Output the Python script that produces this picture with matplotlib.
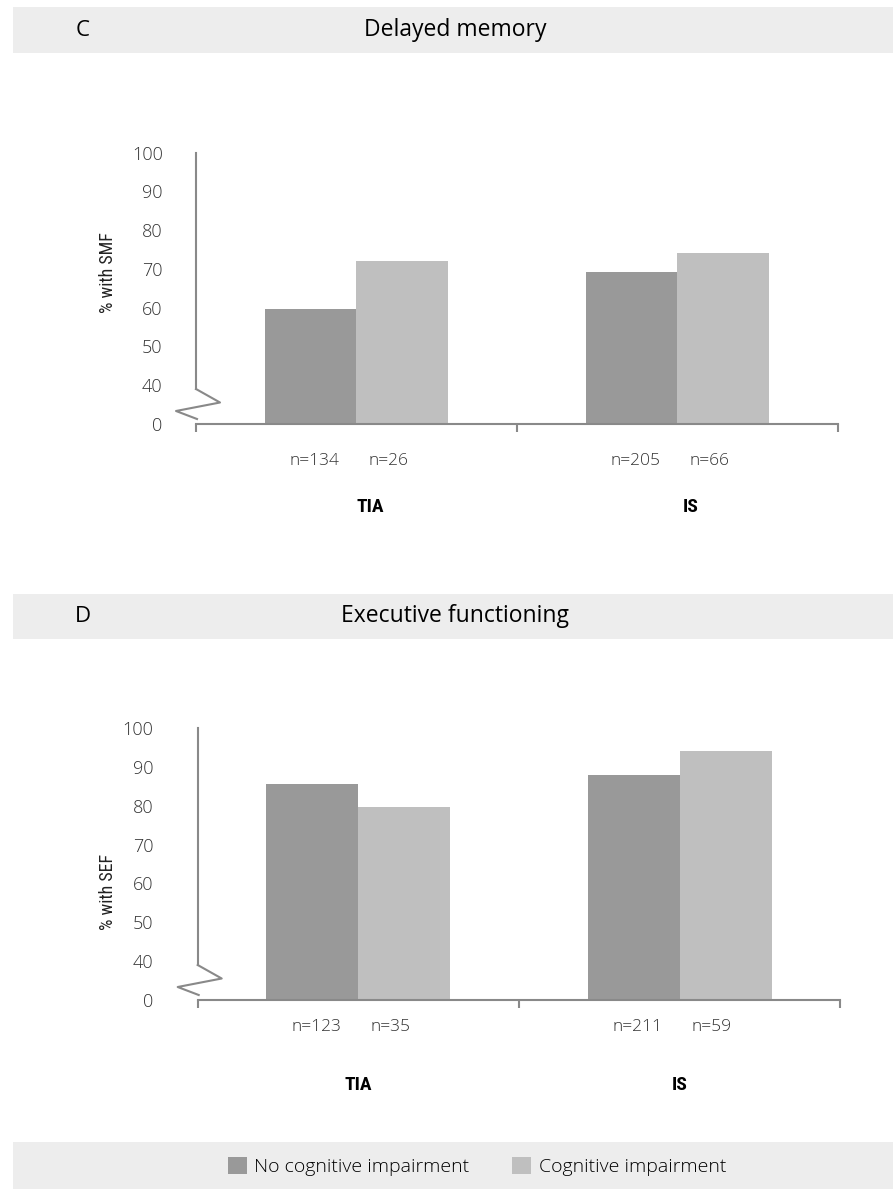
import matplotlib
matplotlib.use('Agg')
import numpy as np
import matplotlib.pyplot as plt
from matplotlib.patches import Rectangle
from matplotlib.lines import Line2D
from matplotlib.transforms import IdentityTransform

# data
groups = ['TIA', 'IS']
series = ['No cognitive impairment', 'Cognitive impairment']
colors = ['#999999', '#bfbfbf']

smf_no_ci = [59.6, 69.3]
smf_ci = [72.0, 74.2]
smf_n = [['n=134', 'n=26'], ['n=205', 'n=66']]

sef_no_ci = [85.5, 88.0]
sef_ci = [79.6, 94.1]
sef_n = [['n=123', 'n=35'], ['n=211', 'n=59']]

ytick_vals = [30, 40, 50, 60, 70, 80, 90, 100]   # 30 sits where the axis is broken
ytick_labels = ['0', '40', '50', '60', '70', '80', '90', '100']

W, H = 893, 1189
fig = plt.figure(figsize=(W / 100, H / 100), dpi=100)

LIGHT = dict(family='Open Sans', weight='light')
NARROW = ['Liberation Sans Narrow', 'Roboto Condensed', 'Roboto']
AXCOL = '#898989'


def fx(px):
    return px / W


def fy(py):
    return 1 - py / H


def band(top, bottom):
    fig.patches.append(Rectangle((fx(12.5), fy(bottom)), 1 - fx(12.5), fy(top) - fy(bottom),
                                 transform=fig.transFigure, facecolor='#ededed',
                                 edgecolor='none', zorder=0))


def panel(letter, title, hdr, box, no_ci, ci, nlabels, ylabel, ylab_pos,
          tick_pad, n_dy, cat_dy, cat_dx):
    band(*hdr)
    yc = fy((hdr[0] + hdr[1]) / 2)
    fig.text(fx(83), yc, letter, ha='center', va='center', fontsize=16, family='Open Sans')
    fig.text(fx(455), yc, title, ha='center', va='center', fontsize=16.5, family='Open Sans')

    left, top, right, bottom = box
    ax = fig.add_axes([fx(left), fy(bottom), fx(right) - fx(left), fy(top) - fy(bottom)])
    x = np.arange(len(groups))
    w = 0.286
    ax.bar(x - w / 2, np.array(no_ci) - 30, w, bottom=30, color=colors[0], label=series[0])
    ax.bar(x + w / 2, np.array(ci) - 30, w, bottom=30, color=colors[1], label=series[1])
    ax.set_xlim(-0.5, len(groups) - 0.5)
    ax.set_ylim(30, 100)

    for s in ['top', 'right']:
        ax.spines[s].set_visible(False)
    for s in ['left', 'bottom']:
        ax.spines[s].set_color(AXCOL)
        ax.spines[s].set_linewidth(1.5)
    px_per_unit = (bottom - top) / 70.0
    ax.spines['left'].set_bounds(30 + 35 / px_per_unit, 100)

    ax.set_yticks(ytick_vals)
    ax.set_yticklabels(ytick_labels, fontsize=13, color='#333333', **LIGHT)
    ax.tick_params(axis='y', length=0, pad=tick_pad)
    ax.set_xticks(np.arange(len(groups) + 1) - 0.5)
    ax.set_xticklabels([])
    ax.tick_params(axis='x', direction='out', length=6, width=1.5, color=AXCOL)

    # zigzag break marker on the y axis
    fig.canvas.draw()
    ox, oy = ax.transAxes.transform((0, 0))
    pts = np.array([(0, 35), (24, 21.5), (-20, 13), (1, 5)], dtype=float)
    fig.lines.append(Line2D(ox + pts[:, 0], oy + pts[:, 1], transform=IdentityTransform(),
                            color=AXCOL, lw=1.5, figure=fig))

    # sample sizes and group names under the axis
    trans = ax.get_xaxis_transform()
    for i, g in enumerate(groups):
        for j, off in enumerate([-0.13, 0.10]):
            ax.annotate(nlabels[i][j], (i + off, 0), xycoords=trans, xytext=(0, -n_dy),
                        textcoords='offset pixels', ha='center', va='center',
                        fontsize=12.5, color='#333333', **LIGHT)
        ax.annotate(g, (i + cat_dx, 0), xycoords=trans, xytext=(0, -cat_dy),
                    textcoords='offset pixels', ha='center', va='center',
                    fontsize=14, family=NARROW, weight='bold', color='black')

    fig.text(fx(ylab_pos[0]), fy(ylab_pos[1]), ylabel, rotation=90, ha='center', va='center',
             fontsize=13, family=NARROW, color='#222222')
    return ax


ax_c = panel('C', 'Delayed memory', (7.3, 52.7), (196, 152.7, 837.7, 424),
             smf_no_ci, smf_ci, smf_n, '% with SMF', (108, 273),
             tick_pad=24, n_dy=37, cat_dy=83.5, cat_dx=0.042)
ax_d = panel('D', 'Executive functioning', (594, 639), (197.7, 728, 840.3, 1000),
             sef_no_ci, sef_ci, sef_n, '% with SEF', (108, 892),
             tick_pad=32, n_dy=27, cat_dy=85, cat_dx=0.0)

# legend strip
band(1141.7, 1189)
handles, labels = ax_d.get_legend_handles_labels()
fig.legend(handles, labels, loc='center', bbox_to_anchor=(fx(477), fy(1166.5)),
           ncol=2, frameon=False, handlelength=0.95, handleheight=1.0,
           handletextpad=0.4, columnspacing=2.2,
           prop=dict(family='Open Sans', weight='light', size=14))

fig.savefig('out.png', dpi=100)
